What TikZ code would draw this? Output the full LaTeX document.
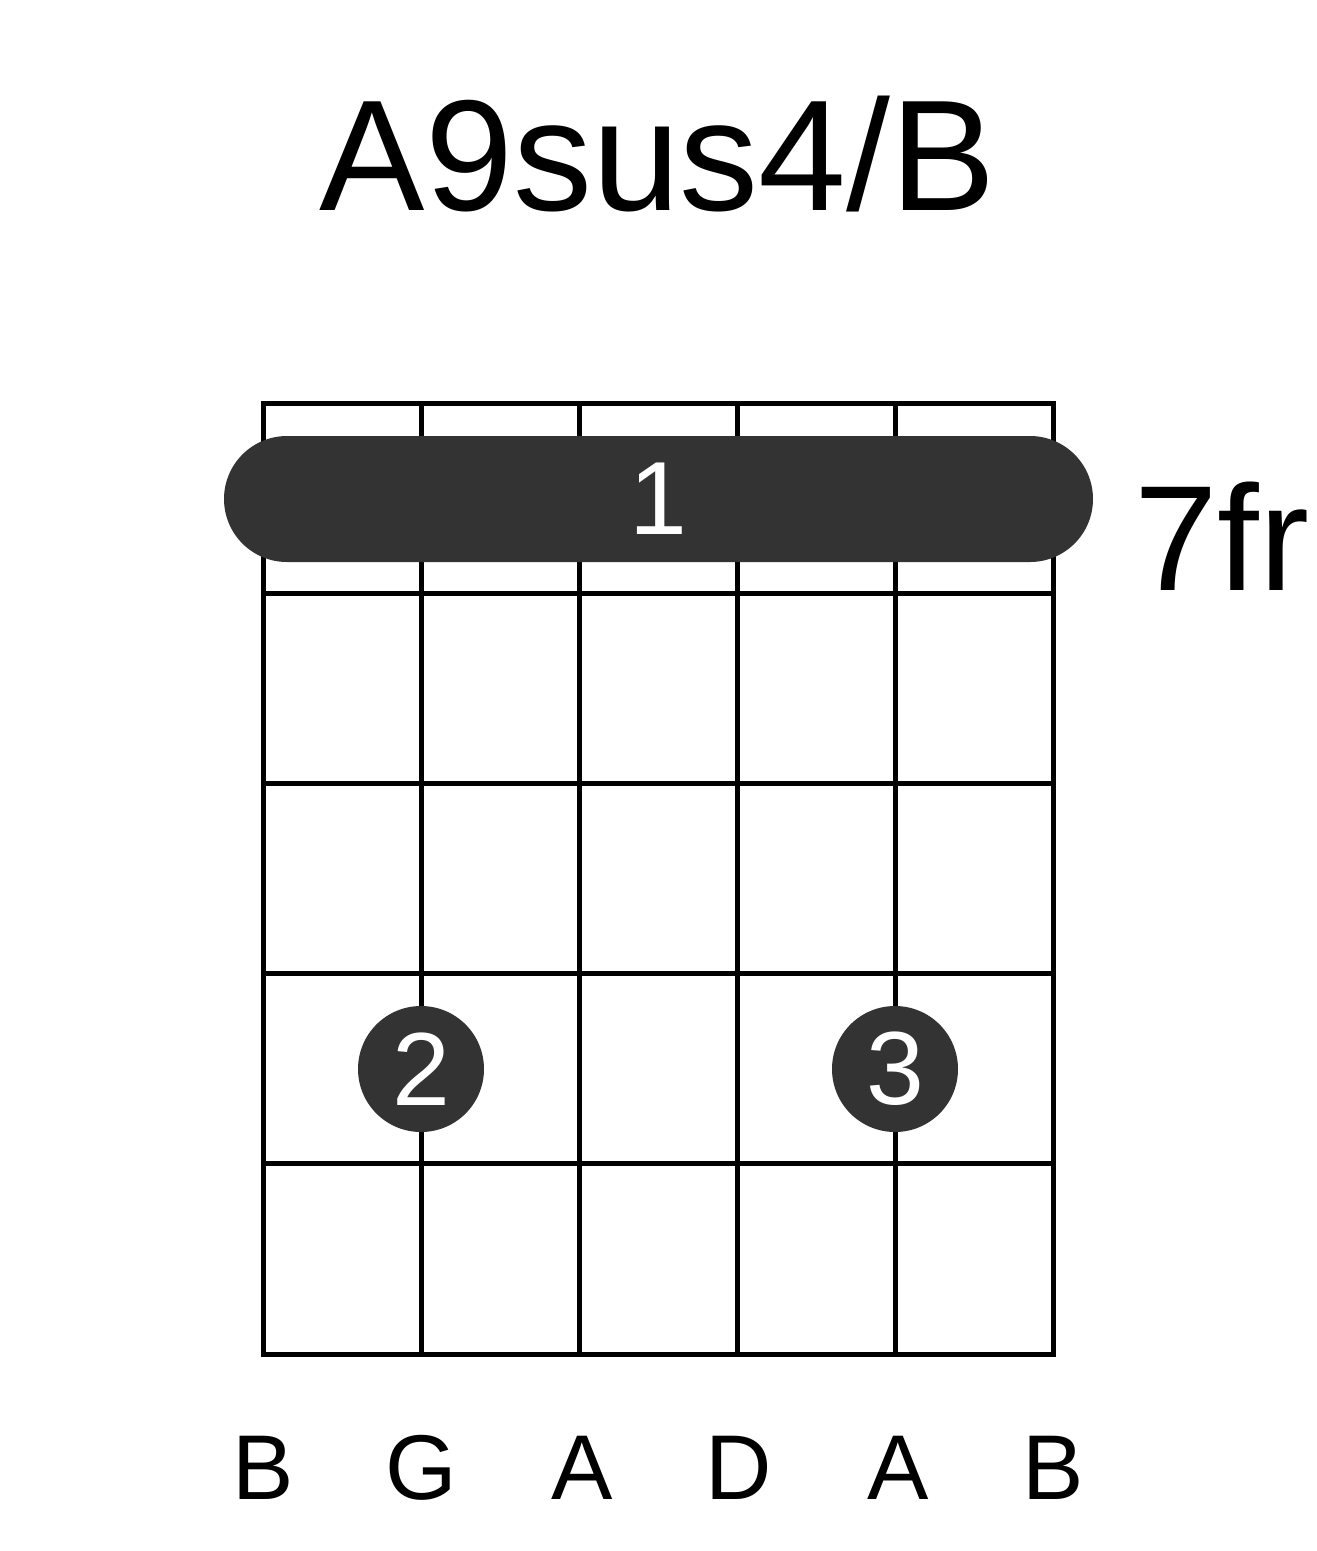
\documentclass[tikz,border=0pt]{standalone}
\usepackage{fontspec}
\setmainfont{Liberation Sans}
\definecolor{dotgray}{HTML}{333333}
\begin{document}
\begin{tikzpicture}[x=1pt,y=-1pt,
  gridline/.style={line width=5pt,black},
  barrebox/.style={rectangle,rounded corners=63pt,fill=dotgray,minimum width=869pt,minimum height=126pt,inner sep=0pt,text=white,font=\fontsize{104}{104}\selectfont},
  fingerdot/.style={circle,fill=dotgray,minimum size=126pt,inner sep=0pt,text=white,font=\fontsize{104}{104}\selectfont},
  strlabel/.style={anchor=base,inner sep=0pt,font=\fontsize{92}{92}\selectfont}]
\useasboundingbox (0,0) rectangle (1317,1551);
\fill[white] (0,0) rectangle (1317,1551);
% title
\node[anchor=base,inner sep=0pt,font=\fontsize{158}{158}\selectfont] (title) at (658,210) {A9sus4/B};
% grid
\foreach \i in {0,...,5} {
  \draw[gridline] (263.5+158*\i,403) -- (263.5+158*\i,1354);
  \draw[gridline,line cap=rect] (263.5,403+190.2*\i) -- (1053.5,403+190.2*\i);
}
% barre
\node[barrebox] (barre) at (658.5,499) {1};
% fret label
\node[anchor=base west,inner sep=0pt,font=\fontsize{150}{150}\selectfont] (fr) at (1134,590) {7fr};
% finger dots
\node[fingerdot] (f2) at (421,1069) {2};
\node[fingerdot] (f3) at (895,1069) {3};
% string labels
\foreach \n/\t/\d in {0/B/0,1/G/0,2/A/3,3/D/1,4/A/3,5/B/0} {
  \node[strlabel] (s\n) at (263.5+158*\n+\d,1499) {\t};
}
\end{tikzpicture}
\end{document}
